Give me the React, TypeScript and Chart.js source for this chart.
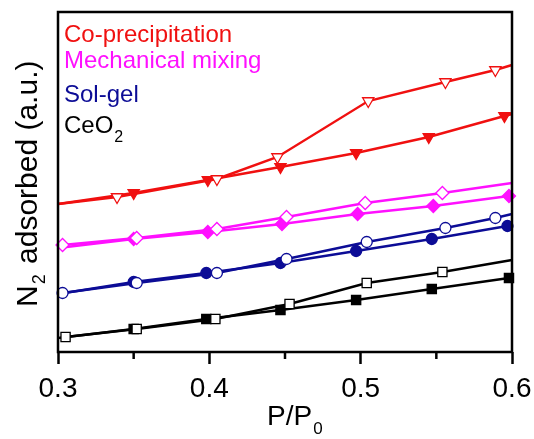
import React, { useEffect, useRef } from 'react';
import { Chart, registerables } from 'chart.js';
Chart.register(...registerables);

// P/P0 values and adsorbed amounts (arbitrary units)
const coPrecipAdsX = [0.3, 0.35, 0.399, 0.447, 0.497, 0.545, 0.595, 0.6];
const coPrecipAdsY = [148, 159, 172, 185, 199, 215, 236, 238];
const coPrecipDesX = [0.3, 0.339, 0.405, 0.445, 0.505, 0.556, 0.589, 0.6];
const coPrecipDesY = [148, 155, 173, 195, 251, 270, 282, 287];

const mechAdsX = [0.3, 0.35, 0.399, 0.448, 0.498, 0.548, 0.598];
const mechAdsY = [104, 113, 120, 128, 138, 146, 156];
const mechDesX = [0.303, 0.352, 0.405, 0.451, 0.503, 0.554, 0.6];
const mechDesY = [107, 114, 123, 135, 149, 159, 169];

const solGelAdsX = [0.3, 0.35, 0.398, 0.447, 0.497, 0.547, 0.597];
const solGelAdsY = [58, 70, 79, 89, 101, 113, 126];
const solGelDesX = [0.303, 0.352, 0.405, 0.451, 0.504, 0.556, 0.589, 0.6];
const solGelDesY = [59, 69, 79, 93, 110, 124, 134, 138];

const ceo2AdsX = [0.3, 0.35, 0.398, 0.447, 0.497, 0.547, 0.598];
const ceo2AdsY = [14, 23, 33, 42, 52, 63, 74];
const ceo2DesX = [0.305, 0.352, 0.404, 0.453, 0.504, 0.554, 0.6];
const ceo2DesY = [15, 23, 33, 48, 69, 80, 92];

const seriesNames = ['Co-precipitation', 'Mechanical mixing', 'Sol-gel', 'CeO'];
const xMin = 0.3;
const xMax = 0.6;
const xMajorStep = 0.1;
const xMinorTicks = [0.35, 0.45, 0.55];
const yMin = 0;
const yMax = 340;

const RED = '#f01010';
const MAGENTA = '#ff10ff';
const BLUE = '#0c0c96';
const BLACK = '#000000';
const FONT = '"Liberation Sans", Arial, Helvetica, sans-serif';

const toPts = (xs: number[], ys: number[]) => xs.map((x, i) => ({ x, y: ys[i] }));

function mk(label: string, xs: number[], ys: number[], color: string, style: string, filled: boolean, r: number, rot = 0) {
  return {
    label,
    data: toPts(xs, ys),
    borderColor: color,
    backgroundColor: filled ? color : '#ffffff',
    pointBorderColor: color,
    pointBackgroundColor: filled ? color : '#ffffff',
    pointStyle: style,
    pointRotation: rot,
    pointBorderWidth: 1.3,
    pointRadius: (c: any) => {
      const x = c.raw ? c.raw.x : 0;
      return x <= xMin || x >= xMax ? 0 : r;
    },
    borderWidth: 2.4,
    tension: 0,
    fill: false,
  };
}

const decorPlugin = {
  id: 'decor',
  afterDraw(chart: any) {
    const ctx = chart.ctx;
    const a = chart.chartArea;
    const xs = chart.scales.x;
    ctx.save();
    // frame
    ctx.strokeStyle = BLACK;
    ctx.lineWidth = 2.5;
    ctx.strokeRect(a.left, a.top, a.right - a.left, a.bottom - a.top);
    // minor ticks
    ctx.lineWidth = 2.5;
    xMinorTicks.forEach((v) => {
      const px = xs.getPixelForValue(v);
      ctx.beginPath();
      ctx.moveTo(px, a.bottom);
      ctx.lineTo(px, a.bottom + 7);
      ctx.stroke();
    });
    // legend text
    ctx.textBaseline = 'alphabetic';
    ctx.textAlign = 'left';
    const lx = a.left + 6;
    const rows = [
      { t: seriesNames[0], c: RED, y: 42 },
      { t: seriesNames[1], c: MAGENTA, y: 68 },
      { t: seriesNames[2], c: BLUE, y: 102 },
      { t: seriesNames[3], c: BLACK, y: 133 },
    ];
    rows.forEach((r, i) => {
      ctx.font = `24px ${FONT}`;
      ctx.fillStyle = r.c;
      ctx.fillText(r.t, lx, r.y);
      if (i === 3) {
        const w = ctx.measureText(r.t).width;
        ctx.font = `16px ${FONT}`;
        ctx.fillText('2', lx + w + 1, r.y + 9);
      }
    });
    // x title
    ctx.fillStyle = BLACK;
    ctx.font = `28px ${FONT}`;
    const xt = 'P/P';
    const xw = ctx.measureText(xt).width;
    const xStart = 267;
    ctx.fillText(xt, xStart, 425);
    ctx.font = `17px ${FONT}`;
    ctx.fillText('0', xStart + xw + 1, 434);
    // y title
    ctx.save();
    ctx.translate(37, 307);
    ctx.rotate(-Math.PI / 2);
    ctx.font = `30px ${FONT}`;
    ctx.fillText('N', 0, 0);
    const nw = ctx.measureText('N').width;
    ctx.font = `18px ${FONT}`;
    ctx.fillText('2', nw + 1, 8);
    const sw = ctx.measureText('2').width;
    ctx.font = `30px ${FONT}`;
    ctx.fillText(' adsorbed (a.u.)', nw + sw + 3, 0);
    ctx.restore();
    ctx.restore();
  },
};

export default function App() {
  const ref = useRef<HTMLCanvasElement | null>(null);
  useEffect(() => {
    if (!ref.current) return;
    const chart = new Chart(ref.current, {
      type: 'line',
      data: {
        datasets: [
          mk('Co-precipitation des', coPrecipDesX, coPrecipDesY, RED, 'triangle', false, 6.5, 180),
          mk('Co-precipitation ads', coPrecipAdsX, coPrecipAdsY, RED, 'triangle', true, 6.5, 180),
          mk('Mechanical mixing des', mechDesX, mechDesY, MAGENTA, 'rectRot', false, 6.5),
          mk('Mechanical mixing ads', mechAdsX, mechAdsY, MAGENTA, 'rectRot', true, 6.5),
          mk('Sol-gel des', solGelDesX, solGelDesY, BLUE, 'circle', false, 5.5),
          mk('Sol-gel ads', solGelAdsX, solGelAdsY, BLUE, 'circle', true, 5.5),
          mk('CeO2 des', ceo2DesX, ceo2DesY, BLACK, 'rect', false, 6.5),
          mk('CeO2 ads', ceo2AdsX, ceo2AdsY, BLACK, 'rect', true, 6.5),
        ] as any,
      },
      options: {
        responsive: false,
        animation: false,
        clip: false as any,
        layout: { padding: { left: 58, right: 22, top: 12, bottom: 0 } },
        plugins: { legend: { display: false }, tooltip: { enabled: false } },
        scales: {
          x: {
            type: 'linear',
            min: xMin,
            max: xMax,
            afterFit: (s: any) => { s.height = 87; s.paddingLeft = 0; s.paddingRight = 0; },
            border: { display: false },
            grid: { display: true, drawOnChartArea: false, drawTicks: true, tickLength: 12, tickWidth: 2.5, tickColor: BLACK },
            ticks: {
              stepSize: xMajorStep,
              color: BLACK,
              padding: 8,
              maxRotation: 0,
              font: { size: 28, family: FONT },
              callback: (v: any) => Number(v).toFixed(1),
            },
          },
          y: { type: 'linear', min: yMin, max: yMax, display: false },
        },
      },
      plugins: [decorPlugin],
    });
    return () => chart.destroy();
  }, []);
  return (
    <div style={{ position: 'absolute', left: 0, top: 0, width: 534, height: 439, background: '#fff' }}>
      <canvas ref={ref} width={534} height={439} style={{ width: 534, height: 439 }} />
    </div>
  );
}
